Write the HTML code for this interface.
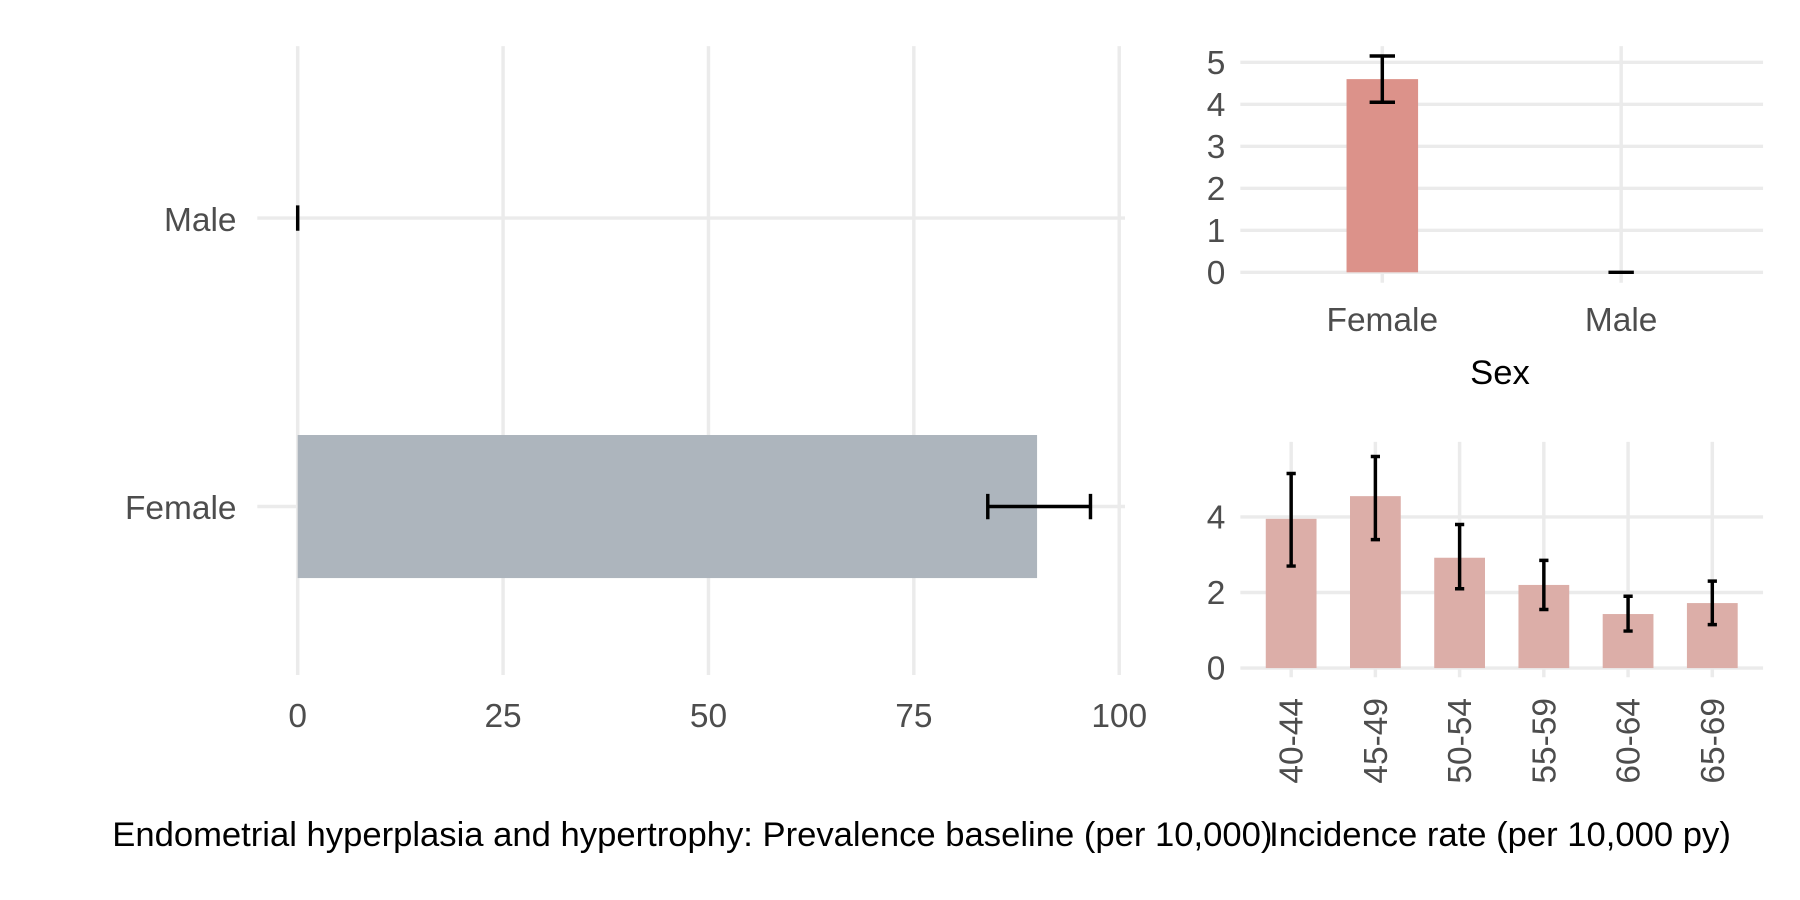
<!DOCTYPE html>
<html><head><meta charset="utf-8"><style>
html,body{margin:0;padding:0;background:#fff;}
svg{display:block;font-family:"Liberation Sans",sans-serif;}
.tick{fill:#4d4d4d;font-size:29px;}
.grid{stroke:#ebebeb;stroke-width:3;}
.eb{stroke:#000;stroke-width:3;fill:none;}
</style></head><body>
<svg id="chart" width="1800" height="900" viewBox="0 0 1560 780" xmlns="http://www.w3.org/2000/svg">
<g id="left"></g>
<g id="tr"></g>
<g id="br"></g>
<text x="600" y="733" text-anchor="middle" font-size="30" fill="#000">Endometrial hyperplasia and hypertrophy: Prevalence baseline (per 10,000)</text>
<text x="1300" y="733" text-anchor="middle" font-size="30" fill="#000">Incidence rate (per 10,000 py)</text>
</svg>
<script>
const prevCats=["Female","Male"];
const prevVals=[90,0];
const prevLo=[84,0];
const prevHi=[96.5,0];
const prevTicks=[0,25,50,75,100];

const sexCats=["Female","Male"];
const sexVals=[4.6,0];
const sexLo=[4.05,0];
const sexHi=[5.15,0];
const sexTicks=[0,1,2,3,4,5];

const ageCats=["40-44","45-49","50-54","55-59","60-64","65-69"];
const ageVals=[3.95,4.55,2.92,2.2,1.43,1.72];
const ageLo=[2.7,3.4,2.1,1.55,0.98,1.15];
const ageHi=[5.15,5.6,3.8,2.85,1.9,2.3];
const ageTicks=[0,2,4];

const NS="http://www.w3.org/2000/svg";
function mk(p,t,a){const e=document.createElementNS(NS,t);for(const k in a)e.setAttribute(k,a[k]);p.appendChild(e);return e;}

// Left panel
(function(){
const g=document.getElementById('left');
const x=v=>258+v*(712/100);
const y=i=>[439,189][i];
prevTicks.forEach(t=>{
 const l=mk(g,'line',{class:'grid',x1:x(t),x2:x(t),y1:40,y2:585});
 
 const tx=mk(g,'text',{class:'tick',x:x(t),y:630,'text-anchor':'middle'});tx.textContent=t;
 
});
prevCats.forEach((c,i)=>{
 const l=mk(g,'line',{class:'grid',x1:223,x2:975,y1:y(i),y2:y(i)});
 
 const tx=mk(g,'text',{class:'tick',x:205,y:y(i)+11,'text-anchor':'end'});tx.textContent=c;
 
});
prevCats.forEach((c,i)=>{
 if(prevVals[i]>0){const r=mk(g,'rect',{x:x(0),y:y(i)-62,width:x(prevVals[i])-x(0),height:124,fill:'#adb5bd'});
 }
 const e=mk(g,'path',{class:'eb',d:`M${x(prevLo[i])},${y(i)-11}v22M${x(prevLo[i])},${y(i)}H${x(prevHi[i])}M${x(prevHi[i])},${y(i)-11}v22`});
 
});
})();

// Top right
(function(){
const g=document.getElementById('tr');
const y=v=>236-v*(182/5);
const x=i=>[1198,1405][i];
sexTicks.forEach(t=>{
 const l=mk(g,'line',{class:'grid',x1:1075,x2:1528,y1:y(t),y2:y(t)});
 
 const tx=mk(g,'text',{class:'tick',x:1062,y:y(t)+10,'text-anchor':'end'});tx.textContent=t;
 
});
sexCats.forEach((c,i)=>{
 const l=mk(g,'line',{class:'grid',x1:x(i),x2:x(i),y1:40,y2:245});
 
 const tx=mk(g,'text',{class:'tick',x:x(i),y:287,'text-anchor':'middle'});tx.textContent=c;
 
});
sexCats.forEach((c,i)=>{
 if(sexVals[i]>0){const r=mk(g,'rect',{x:x(i)-31,y:y(sexVals[i]),width:62,height:y(0)-y(sexVals[i]),fill:'#dc928a'});
 }
 const e=mk(g,'path',{class:'eb',d:`M${x(i)-11},${y(sexHi[i])}h22M${x(i)},${y(sexHi[i])}V${y(sexLo[i])}M${x(i)-11},${y(sexLo[i])}h22`});
 
});
const t=mk(g,'text',{x:1300,y:333,'text-anchor':'middle','font-size':30,fill:'#000'});t.textContent='Sex';

})();

// Bottom right
(function(){
const g=document.getElementById('br');
const y=v=>579-v*32.75;
const x=i=>1119+i*73;
ageTicks.forEach(t=>{
 const l=mk(g,'line',{class:'grid',x1:1075,x2:1528,y1:y(t),y2:y(t)});
 
 const tx=mk(g,'text',{class:'tick',x:1062,y:y(t)+10,'text-anchor':'end'});tx.textContent=t;
 
});
ageCats.forEach((c,i)=>{
 const l=mk(g,'line',{class:'grid',x1:x(i),x2:x(i),y1:383,y2:587});
 
 const tx=mk(g,'text',{class:'tick',x:0,y:0,'text-anchor':'end',transform:`translate(${x(i)+10},605) rotate(-90)`});tx.textContent=c;
 
});
ageCats.forEach((c,i)=>{
 const r=mk(g,'rect',{x:x(i)-22,y:y(ageVals[i]),width:44,height:y(0)-y(ageVals[i]),fill:'#dcaea8'});
 
 const e=mk(g,'path',{class:'eb',d:`M${x(i)-4},${y(ageHi[i])}h8M${x(i)},${y(ageHi[i])}V${y(ageLo[i])}M${x(i)-4},${y(ageLo[i])}h8`});
 
});
})();
</script>
</body></html>
